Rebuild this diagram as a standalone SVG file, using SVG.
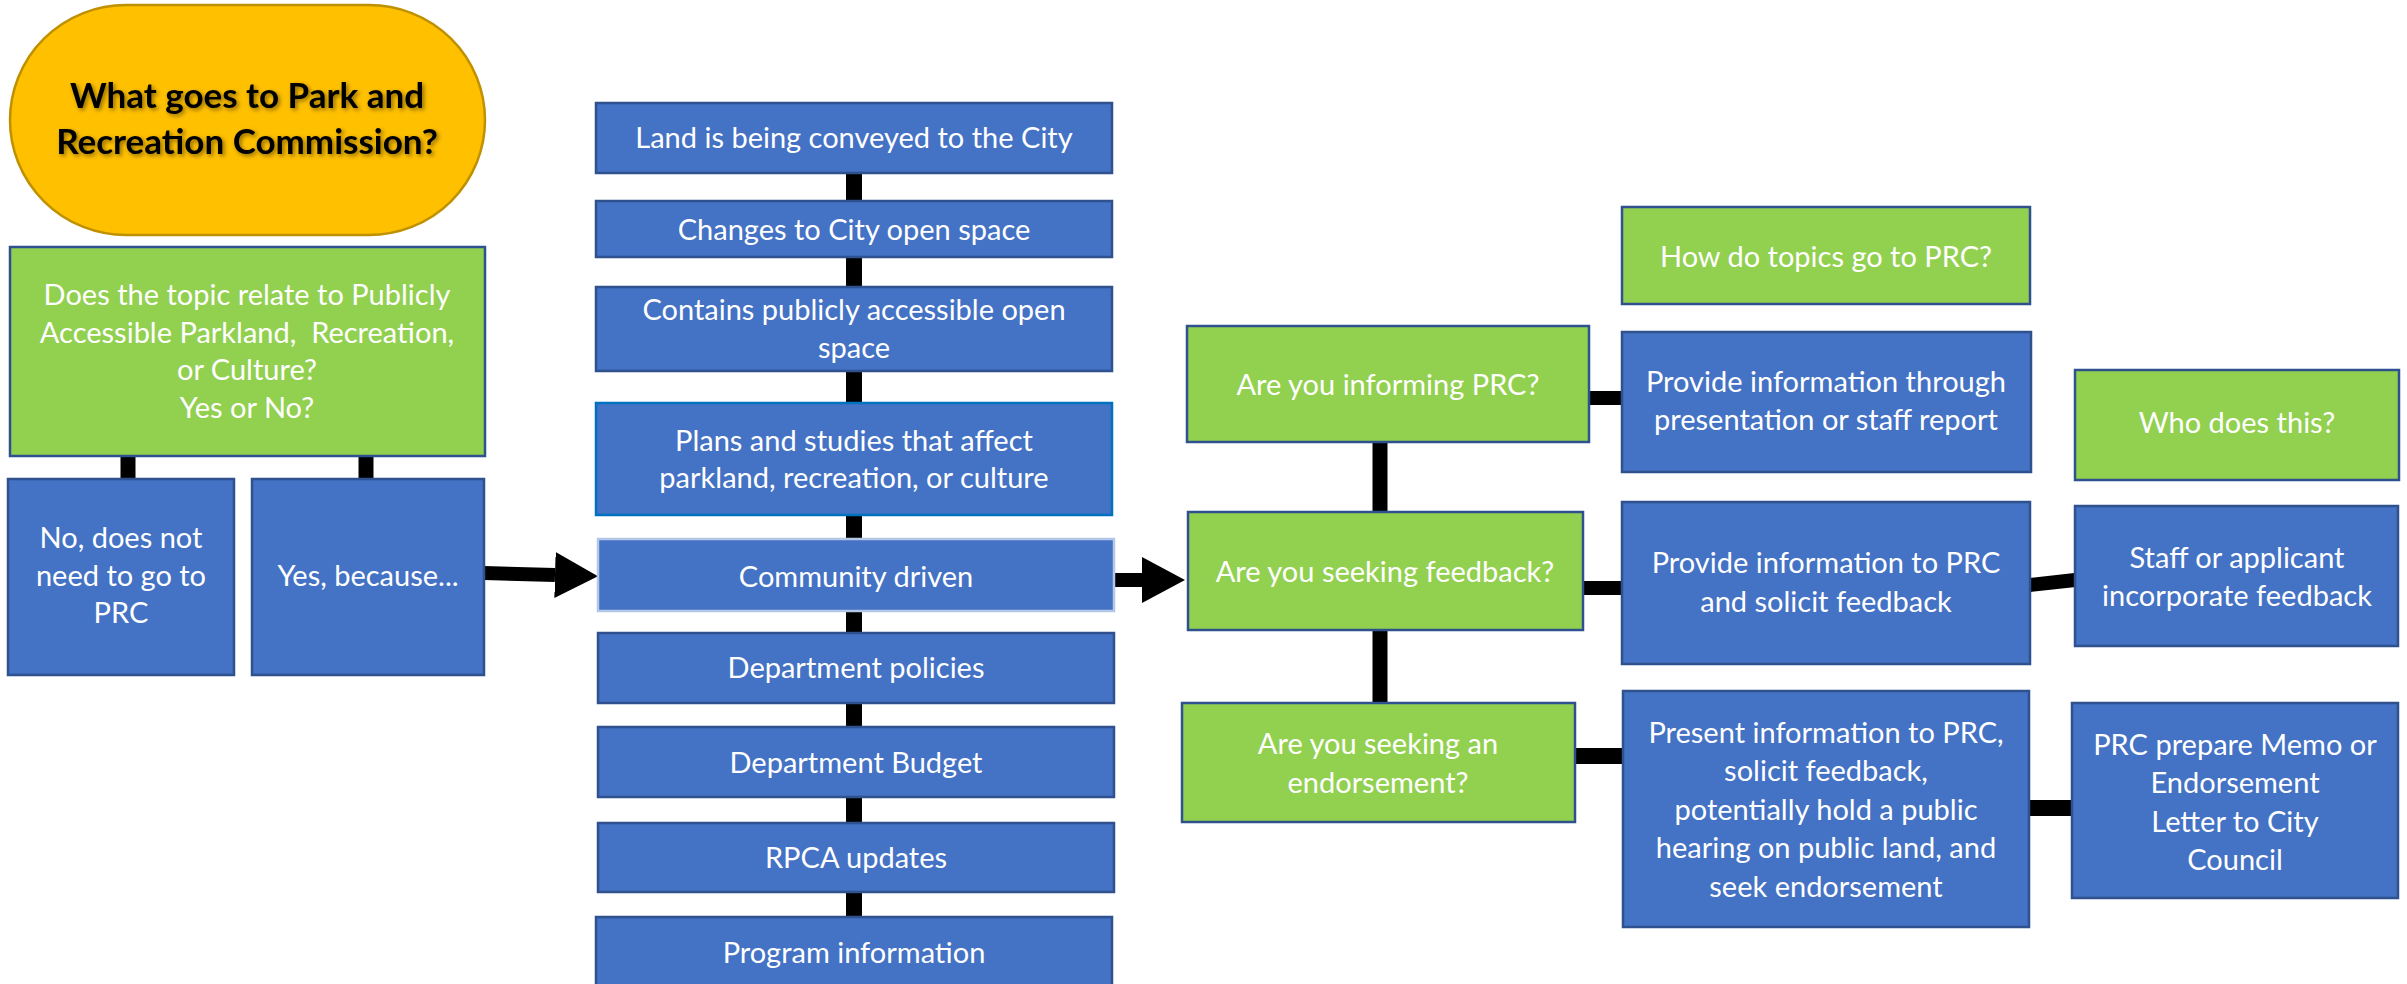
<svg xmlns="http://www.w3.org/2000/svg" width="2407" height="984" viewBox="0 0 2407 984">
<style>
.blue{fill:#4472C4;stroke:#2F528F;stroke-width:2.5}
.green{fill:#92D050;stroke:#2F528F;stroke-width:2.5}
.t{font-family:Lato,"Liberation Sans",sans-serif;font-size:29px;fill:#FFFFFF;text-anchor:middle}
.title{font-family:Lato,"Liberation Sans",sans-serif;font-size:35px;font-weight:bold;fill:#000000;text-anchor:middle}
.c{stroke:#000000;fill:none;stroke-linecap:butt}
</style>
<defs>
<marker id="ah" markerUnits="userSpaceOnUse" markerWidth="44" markerHeight="46" viewBox="0 -23 44 46" refX="0" refY="0" orient="auto">
<path d="M0,-23 L43,0 L0,23 Z" fill="#000000"/>
</marker>
<filter id="sh" x="-10%" y="-30%" width="120%" height="160%">
<feDropShadow dx="2" dy="2" stdDeviation="2" flood-color="#000000" flood-opacity="0.45"/>
</filter>
</defs>
<g id="connectors">
<line class="c" x1="854" y1="173" x2="854" y2="917" stroke-width="16"/>
<line class="c" x1="128" y1="456" x2="128" y2="479" stroke-width="15"/>
<line class="c" x1="366" y1="456" x2="366" y2="479" stroke-width="15"/>
<path class="c" d="M484,573 L555,575" stroke-width="14" marker-end="url(#ah)"/>
<path class="c" d="M1114,580 L1142,580" stroke-width="14" marker-end="url(#ah)"/>
<line class="c" x1="1380" y1="442" x2="1380" y2="512" stroke-width="15"/>
<line class="c" x1="1380" y1="630" x2="1380" y2="703" stroke-width="15"/>
<line class="c" x1="1589" y1="398" x2="1622" y2="398" stroke-width="14"/>
<line class="c" x1="1583" y1="588" x2="1622" y2="588" stroke-width="14"/>
<line class="c" x1="1575" y1="756" x2="1623" y2="756" stroke-width="16"/>
<line class="c" x1="2030" y1="585" x2="2075" y2="580" stroke-width="14"/>
<line class="c" x1="2029" y1="808" x2="2072" y2="808" stroke-width="16"/>
</g>
<g id="title">
<rect x="10" y="5" width="475" height="230" rx="116" ry="115" fill="#FFC000" stroke="#BF9000" stroke-width="2.5"/>
<text class="title" filter="url(#sh)"><tspan x="247" y="108">What goes to Park and</tspan><tspan x="247" y="154">Recreation Commission?</tspan></text>
</g>
<g id="q-topic">
<rect class="green" x="10" y="247" width="475" height="209"/>
<text class="t" xml:space="preserve"><tspan x="247" y="305">Does the topic relate to Publicly</tspan><tspan x="247" y="343">Accessible Parkland,  Recreation,</tspan><tspan x="247" y="380">or Culture?</tspan><tspan x="247" y="418">Yes or No?</tspan></text>
</g>
<g id="no">
<rect class="blue" x="8" y="479" width="226" height="196"/>
<text class="t"><tspan x="121" y="548">No, does not</tspan><tspan x="121" y="586">need to go to</tspan><tspan x="121" y="623">PRC</tspan></text>
</g>
<g id="yes">
<rect class="blue" x="252" y="479" width="232" height="196"/>
<text class="t" x="368" y="586">Yes, because...</text>
</g>
<g id="c-land">
<rect class="blue" x="596" y="103" width="516" height="70"/>
<text class="t" x="854" y="148">Land is being conveyed to the City</text>
</g>
<g id="c-changes">
<rect class="blue" x="596" y="201" width="516" height="56"/>
<text class="t" x="854" y="240">Changes to City open space</text>
</g>
<g id="c-contains">
<rect class="blue" x="596" y="287" width="516" height="84"/>
<text class="t"><tspan x="854" y="320">Contains publicly accessible open</tspan><tspan x="854" y="358">space</tspan></text>
</g>
<g id="c-plans">
<rect class="blue" x="596" y="403" width="516" height="112" style="stroke:#0070C0"/>
<text class="t"><tspan x="854" y="451">Plans and studies that affect</tspan><tspan x="854" y="488">parkland, recreation, or culture</tspan></text>
</g>
<g id="c-community">
<rect class="blue" x="598" y="539" width="516" height="72" style="stroke:#B4C7E7"/>
<text class="t" x="856" y="587">Community driven</text>
</g>
<g id="c-policies">
<rect class="blue" x="598" y="633" width="516" height="70"/>
<text class="t" x="856" y="678">Department policies</text>
</g>
<g id="c-budget">
<rect class="blue" x="598" y="727" width="516" height="70"/>
<text class="t" x="856" y="773">Department Budget</text>
</g>
<g id="c-rpca">
<rect class="blue" x="598" y="823" width="516" height="69"/>
<text class="t" x="856" y="868">RPCA updates</text>
</g>
<g id="c-program">
<rect class="blue" x="596" y="917" width="516" height="70"/>
<text class="t" x="854" y="963">Program information</text>
</g>
<g id="how">
<rect class="green" x="1622" y="207" width="408" height="97"/>
<text class="t" x="1826" y="267">How do topics go to PRC?</text>
</g>
<g id="informing">
<rect class="green" x="1187" y="326" width="402" height="116"/>
<text class="t" x="1388" y="395">Are you informing PRC?</text>
</g>
<g id="provide1">
<rect class="blue" x="1622" y="332" width="409" height="140"/>
<text class="t"><tspan x="1826" y="392">Provide information through</tspan><tspan x="1826" y="430">presentation or staff report</tspan></text>
</g>
<g id="who">
<rect class="green" x="2075" y="370" width="324" height="110"/>
<text class="t" x="2237" y="433">Who does this?</text>
</g>
<g id="feedback">
<rect class="green" x="1188" y="512" width="395" height="118"/>
<text class="t" x="1385" y="582">Are you seeking feedback?</text>
</g>
<g id="provide2">
<rect class="blue" x="1622" y="502" width="408" height="162"/>
<text class="t"><tspan x="1826" y="573">Provide information to PRC</tspan><tspan x="1826" y="612">and solicit feedback</tspan></text>
</g>
<g id="staff">
<rect class="blue" x="2075" y="506" width="323" height="140"/>
<text class="t"><tspan x="2237" y="568">Staff or applicant</tspan><tspan x="2237" y="606">incorporate feedback</tspan></text>
</g>
<g id="endorse">
<rect class="green" x="1182" y="703" width="393" height="119"/>
<text class="t"><tspan x="1378" y="754">Are you seeking an</tspan><tspan x="1378" y="793">endorsement?</tspan></text>
</g>
<g id="present">
<rect class="blue" x="1623" y="691" width="406" height="236"/>
<text class="t"><tspan x="1826" y="743">Present information to PRC,</tspan><tspan x="1826" y="781">solicit feedback,</tspan><tspan x="1826" y="820">potentially hold a public</tspan><tspan x="1826" y="858">hearing on public land, and</tspan><tspan x="1826" y="897">seek endorsement</tspan></text>
</g>
<g id="prc">
<rect class="blue" x="2072" y="703" width="326" height="195"/>
<text class="t"><tspan x="2235" y="755">PRC prepare Memo or</tspan><tspan x="2235" y="793">Endorsement</tspan><tspan x="2235" y="832">Letter to City</tspan><tspan x="2235" y="870">Council</tspan></text>
</g>
</svg>
